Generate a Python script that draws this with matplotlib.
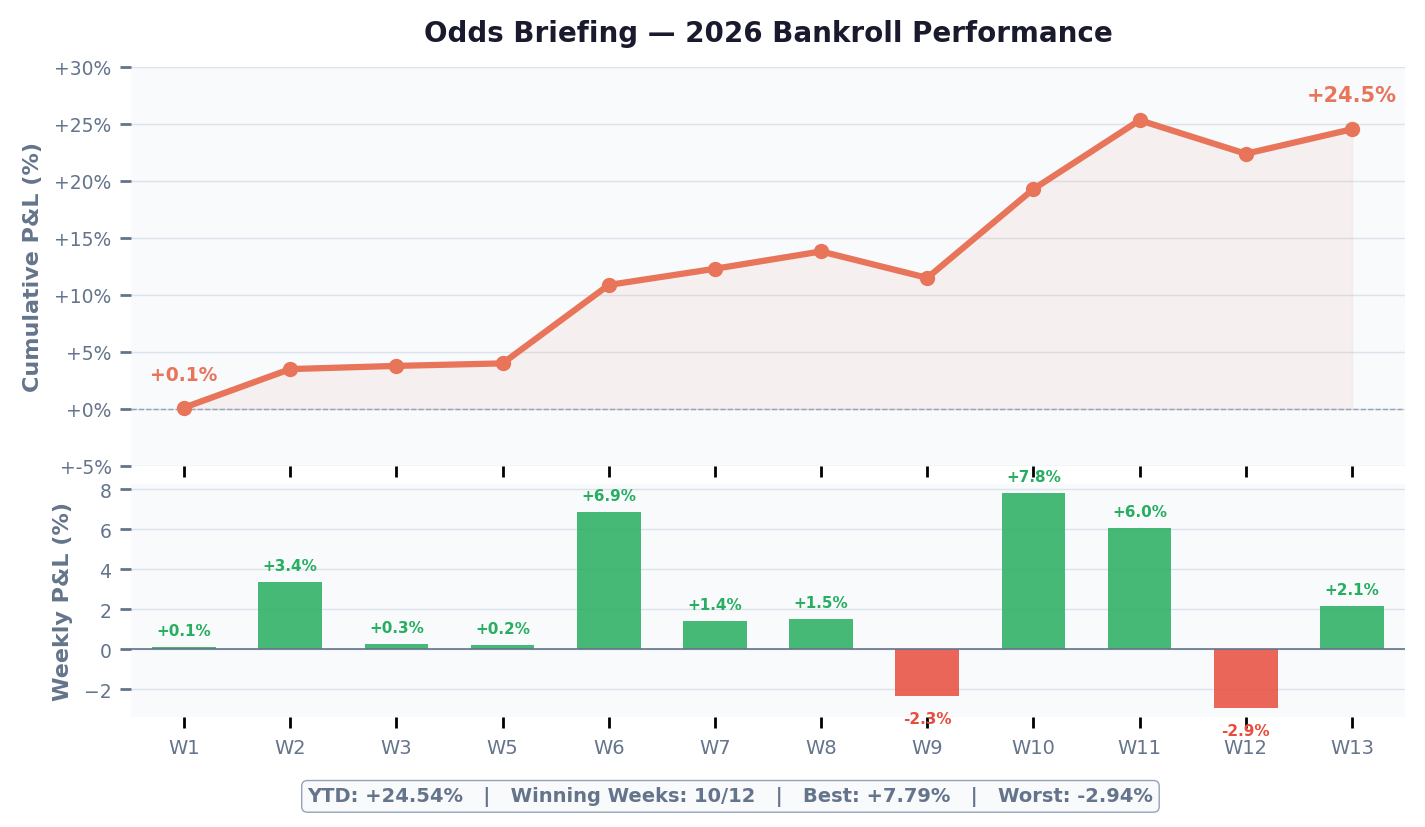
import numpy as np
import matplotlib
matplotlib.use("Agg")
import matplotlib.pyplot as plt

# weekly bankroll data
weeks = ["W1", "W2", "W3", "W5", "W6", "W7", "W8", "W9", "W10", "W11", "W12", "W13"]
weekly_pnl = [0.12, 3.38, 0.28, 0.22, 6.88, 1.42, 1.52, -2.32, 7.79, 6.04, -2.94, 2.15]
cumulative_pnl = [0.12, 3.50, 3.78, 4.00, 10.88, 12.30, 13.82, 11.50, 19.29, 25.33, 22.39, 24.54]
cum_ticks = [-5, 0, 5, 10, 15, 20, 25, 30]

LINE = "#e8745a"
GREEN = "#27ae60"
RED = "#e74c3c"
SLATE = "#64748b"
GRID = "#dde3ec"
PANEL = "#f8fafc"

fig = plt.figure(figsize=(14.25, 8.28), dpi=100)
ax1 = fig.add_axes([0.0919, 0.436, 0.8941, 0.4819])
ax2 = fig.add_axes([0.0919, 0.1329, 0.8941, 0.2814])

x = np.arange(len(weeks))

# top: cumulative
ax1.set_facecolor(PANEL)
ax1.fill_between(x, cumulative_pnl, 0, color=LINE, alpha=0.08)
ax1.plot(x, cumulative_pnl, color=LINE, lw=4.5, marker="o", markersize=10, zorder=3)
ax1.axhline(0, color="#94a3b8", lw=1, ls="--", zorder=1)
ax1.annotate(f"+{cumulative_pnl[0]:.1f}%", (x[0], cumulative_pnl[0]), xytext=(0, 20),
             textcoords="offset points", ha="center", color=LINE, fontsize=13.5, fontweight="bold")
ax1.annotate(f"+{cumulative_pnl[-1]:.1f}%", (x[-1], cumulative_pnl[-1]), xytext=(0, 20),
             textcoords="offset points", ha="center", color=LINE, fontsize=15, fontweight="bold")
ax1.set_ylim(-5, 30)
ax1.set_xlim(-0.5, len(weeks) - 0.5)
ax1.set_yticks(cum_ticks)
ax1.set_yticklabels([f"+{t}%" for t in cum_ticks])
ax1.set_xticks(x)
ax1.set_xticklabels([])
ax1.set_ylabel("Cumulative P&L (%)", fontsize=16, fontweight="bold", color=SLATE, labelpad=8)
ax1.set_title("Odds Briefing — 2026 Bankroll Performance", fontsize=20, fontweight="bold",
              color="#1a1a2e", pad=19)
ax1.grid(axis="y", color=GRID, lw=1)
ax1.set_axisbelow(True)

# bottom: weekly bars
ax2.set_facecolor(PANEL)
colors = [GREEN if v >= 0 else RED for v in weekly_pnl]
ax2.bar(x, weekly_pnl, width=0.6, color=colors, alpha=0.85, zorder=2)
ax2.axhline(0, color=SLATE, lw=1.2, zorder=3)
for xi, v in zip(x, weekly_pnl):
    if v >= 0:
        ax2.text(xi, v + 0.45, f"+{v:.1f}%", ha="center", va="bottom", color=GREEN,
                 fontsize=11, fontweight="bold")
    else:
        ax2.text(xi, v - 0.75, f"{v:.1f}%", ha="center", va="top", color=RED,
                 fontsize=11, fontweight="bold")
ax2.set_ylim(min(weekly_pnl) * 1.15, max(weekly_pnl) * 1.06)
ax2.set_xlim(-0.5, len(weeks) - 0.5)
ax2.set_xticks(x)
ax2.set_xticklabels(weeks)
ax2.set_yticks([-2, 0, 2, 4, 6, 8])
ax2.set_ylabel("Weekly P&L (%)", fontsize=16, fontweight="bold", color=SLATE, labelpad=8)
ax2.grid(axis="y", color=GRID, lw=1)
ax2.set_axisbelow(True)

for ax in (ax1, ax2):
    for s in ax.spines.values():
        s.set_visible(False)
    ax.tick_params(axis="y", colors=SLATE, labelsize=13.5, length=8, width=2, pad=6)
    ax.tick_params(axis="x", color="black", labelcolor=SLATE, labelsize=14, length=8, width=2,
                   pad=7)

summary = "YTD: +24.54%   |   Winning Weeks: 10/12   |   Best: +7.79%   |   Worst: -2.94%"
fig.text(0.5126, 0.037, summary, ha="center", va="center", fontsize=14, fontweight="bold",
         color=SLATE, bbox=dict(boxstyle="round,pad=0.3", facecolor=PANEL, edgecolor="#94a3b8"))

fig.savefig("out.png", dpi=100)
